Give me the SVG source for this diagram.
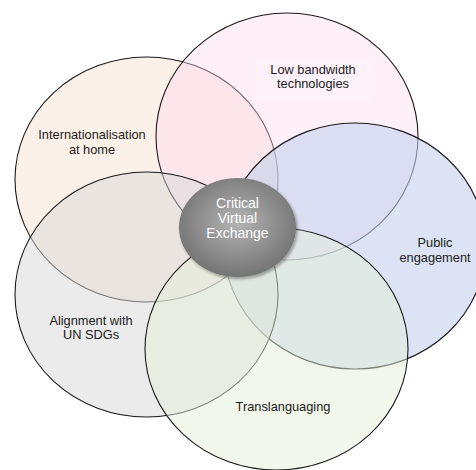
<svg xmlns="http://www.w3.org/2000/svg" width="476" height="470" viewBox="0 0 476 470">
<style>
.c{stroke:#1a1a1a;stroke-width:1.1}
.t{font-family:"Liberation Sans",Arial,sans-serif;font-size:12.8px;fill:#222;text-anchor:middle}
.w{font-family:"Liberation Sans",Arial,sans-serif;font-size:14px;fill:#fff;text-anchor:middle}
</style>
<defs>
<radialGradient id="g" cx="0.5" cy="0.45" r="0.55">
<stop offset="0" stop-color="#b4b4b4"/>
<stop offset="1" stop-color="#747474"/>
</radialGradient>
<filter id="s" x="-20%" y="-20%" width="150%" height="150%">
<feDropShadow dx="1.5" dy="2" stdDeviation="1.5" flood-color="#000" flood-opacity="0.35"/>
</filter>
</defs>
<rect width="476" height="470" fill="#fff"/>
<g id="internationalisation">
<ellipse class="c" cx="146.5" cy="179.5" rx="131.5" ry="122.5" fill="#f8dcc8" fill-opacity="0.4"/>
<text class="t" x="92" y="139">Internationalisation</text>
<text class="t" x="92" y="154">at home</text>
</g>
<g id="low-bandwidth">
<ellipse class="c" cx="287" cy="136.5" rx="131" ry="123.5" fill="#fcd8f0" fill-opacity="0.4"/>
<rect x="255" y="58" width="117" height="43" fill="#fff" fill-opacity="0.18"/>
<text class="t" x="313" y="74">Low bandwidth</text>
<text class="t" x="313" y="88">technologies</text>
</g>
<g id="public-engagement">
<ellipse class="c" cx="355" cy="246" rx="131" ry="123" fill="#c3d0ec" fill-opacity="0.6"/>
<text class="t" x="435" y="247">Public</text>
<text class="t" x="435" y="262">engagement</text>
</g>
<g id="alignment">
<ellipse class="c" cx="146.5" cy="294.5" rx="131.5" ry="122.5" fill="#d8d8d8" fill-opacity="0.5"/>
<text class="t" x="91" y="325">Alignment with</text>
<text class="t" x="91" y="339">UN SDGs</text>
</g>
<g id="translanguaging">
<ellipse class="c" cx="276.5" cy="349" rx="131.5" ry="121" fill="#e4efd8" fill-opacity="0.5"/>
<text class="t" x="283" y="411">Translanguaging</text>
</g>
<g id="critical-virtual-exchange">
<ellipse cx="237.5" cy="227.5" rx="58.5" ry="49.5" fill="url(#g)" filter="url(#s)"/>
<text class="w" x="237.5" y="208">Critical</text>
<text class="w" x="237.5" y="223">Virtual</text>
<text class="w" x="237.5" y="238">Exchange</text>
</g>
</svg>
